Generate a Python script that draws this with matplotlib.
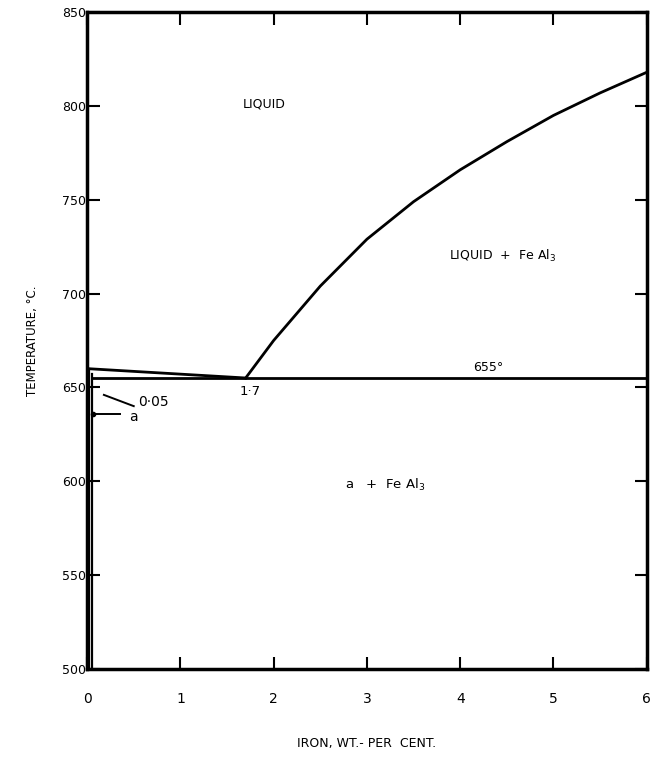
import numpy as np
import matplotlib.pyplot as plt

# liquidus of FeAl3 from the eutectic up to 6 % Fe
liq_fe = [1.7, 2.0, 2.5, 3.0, 3.5, 4.0, 4.5, 5.0, 5.5, 6.0]
liq_t = [655, 675, 704, 729, 749, 766, 781, 795, 807, 818]

# aluminium-rich liquidus, eutectic line and solvus
al_liq_fe = [0.0, 1.7]
al_liq_t = [660, 655]
eut_fe = [0.05, 6.0]
eut_t = [655, 655]
solvus_fe = [0.05, 0.05]
solvus_t = [657, 500]
solvus2_fe = [0.02, 0.02]
solvus2_t = [660, 500]

x_ticks = [0, 1, 2, 3, 4, 5, 6]
y_ticks = [500, 550, 600, 650, 700, 750, 800, 850]

plt.rcParams['font.family'] = 'DejaVu Sans'
fig = plt.figure(figsize=(6.5, 7.66), dpi=100)
ax = fig.add_axes([0.134, 0.127, 0.861, 0.857])

lw = 2.0
ax.plot(liq_fe, liq_t, color="black", lw=lw)
ax.plot(al_liq_fe, al_liq_t, color="black", lw=lw)
ax.plot(eut_fe, eut_t, color="black", lw=lw)
ax.plot(solvus_fe, solvus_t, color="black", lw=1.6)
ax.plot(solvus2_fe, solvus2_t, color="black", lw=1.6)

# alpha marker and leader
ax.plot([0.06, 0.35], [636, 636], color="black", lw=1.4)
ax.plot([0.06], [636], "o", color="black", ms=3)
# 0.05 leader
ax.plot([0.18, 0.5], [646, 640], color="black", lw=1.4)

ax.text(1.9, 801, "LIQUID", ha="center", va="center", fontsize=9)
ax.text(4.45, 720, "LIQUID  +  Fe Al$_3$", ha="center", va="center", fontsize=9)
ax.text(4.3, 657, "655°", ha="center", va="bottom", fontsize=9)
ax.text(1.75, 648, "1·7", ha="center", va="center", fontsize=9.5)
ax.text(0.55, 642, "0·05", ha="left", va="center", fontsize=10)
ax.text(0.45, 634, "a", ha="left", va="center", fontsize=10)
ax.text(3.2, 598, "a   +  Fe Al$_3$", ha="center", va="center", fontsize=9.5)

ax.set_xlim(0, 6)
ax.set_ylim(500, 850)
ax.set_xticks(x_ticks)
ax.set_yticks(y_ticks)
ax.set_xticklabels([str(v) for v in x_ticks], fontsize=10)
ax.set_yticklabels([str(v) for v in y_ticks], fontsize=9)
ax.tick_params(direction="in", top=True, right=True, length=9, width=1.5)
ax.tick_params(axis="x", pad=17)
ax.tick_params(axis="y", pad=1)
for s in ax.spines.values():
    s.set_linewidth(2.5)

ax.set_xlabel("IRON, WT.- PER  CENT.", fontsize=9, labelpad=22)
ax.set_ylabel("TEMPERATURE, °C.", fontsize=8.5, labelpad=16)

fig.savefig("out.png", dpi=100)
